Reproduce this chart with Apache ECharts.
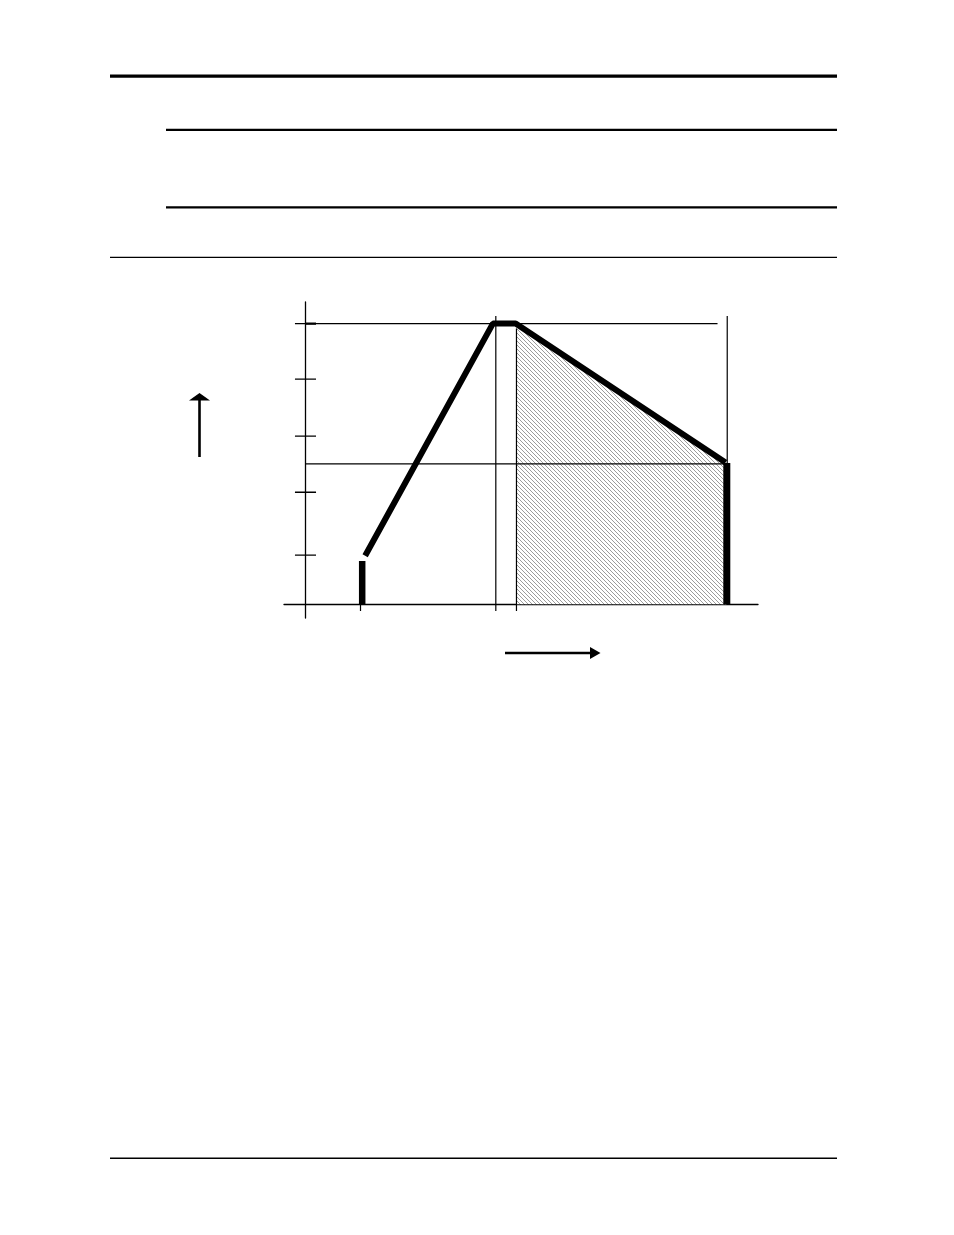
<!DOCTYPE html>
<html style="height: 100%">
<head>
<meta charset="utf-8">
<script src="https://cdn.jsdelivr.net/npm/echarts@6/dist/echarts.min.js"></script>
</head>
<body style="height: 100%; margin: 0; background: #fff">
<div id="container" style="width: 954px; height: 1235px"></div>
<script type="text/javascript">
// axis ranges (x: 50 = start of shaded part, 100 = end; y: 100 = peak)
var xRange = [-5.15, 107.3];
var yRange = [-4.9, 107.7];

// thick curve pieces
var startBar = [[13.4, 0], [13.4, 15.4]];
var mainCurve = [[14.1, 17.3], [44.4, 100], [49.8, 100], [99.6, 50.5]];
var endBar = [[99.9, 50.3], [99.9, 0]];
// shaded region top edge
var shadedTop = [[50, 100], [99.8, 50.3]];

// y tick positions and thin guide lines
var yTicks = [17.5, 39.9, 59.9, 80.2, 100];
var xTicks = [13.0, 45.1, 50];
var hGuides = [[[0, 100], [97.7, 100]], [[0, 50], [99.8, 50]]];
var vGuides = [[[45.1, 102.7], [45.1, 0]], [[50, 98.3], [50, 0]], [[100, 102.7], [100, 50]]];

var dom = document.getElementById("container");
var myChart = echarts.init(dom);

// hatch pattern for the shaded area
var hatch = document.createElement('canvas');
hatch.width = 4; hatch.height = 4;
var hc = hatch.getContext('2d');
hc.fillStyle = '#fff';
hc.fillRect(0, 0, 4, 4);
hc.fillStyle = '#9c9c9c';
for (var i = 0; i < 4; i++) hc.fillRect(i, i, 1, 1);

function seg(data, width) {
	return {
		type: 'line', data: data, symbol: 'none', silent: true,
		lineStyle: { color: '#000', width: width, cap: 'butt' }
	};
}

var series = [];
series.push({
	type: 'line', data: shadedTop, symbol: 'none', silent: true,
	lineStyle: { width: 0 },
	areaStyle: { color: { image: hatch, repeat: 'repeat' }, opacity: 1 }
});
hGuides.forEach(function(g) { series.push(seg(g, 1.2)); });
vGuides.forEach(function(g) { series.push(seg(g, 1.2)); });
yTicks.forEach(function(t, k) {
	series.push(seg([[-2.55, t], [2.45, t]], 1.3));
});
series.push(seg([[0, 100], [2.45, 100]], 2.2));
xTicks.forEach(function(t) { series.push(seg([[t, 0], [t, -2.4]], 1.2)); });
series.push(seg(startBar, 6.5));
series.push(seg(mainCurve, 6));
series.push(seg(endBar, 7));

var option = {
	animation: false,
	backgroundColor: '#fff',
	grid: { left: 284, right: 196, top: 302, bottom: 617 },
	xAxis: {
		type: 'value', min: xRange[0], max: xRange[1],
		axisLine: { onZero: true, lineStyle: { color: '#000', width: 1.3 } },
		axisTick: { show: false }, axisLabel: { show: false }, splitLine: { show: false }
	},
	yAxis: {
		type: 'value', min: yRange[0], max: yRange[1],
		axisLine: { onZero: true, lineStyle: { color: '#000', width: 1.3 } },
		axisTick: { show: false }, axisLabel: { show: false }, splitLine: { show: false }
	},
	graphic: [
		// page rules
		{ type: 'rect', shape: { x: 110, y: 74.5, width: 727, height: 3.3 }, style: { fill: '#000' } },
		{ type: 'rect', shape: { x: 166, y: 128.8, width: 671, height: 2.3 }, style: { fill: '#000' } },
		{ type: 'rect', shape: { x: 166, y: 206.2, width: 671, height: 2.3 }, style: { fill: '#000' } },
		{ type: 'rect', shape: { x: 110, y: 256.8, width: 727, height: 1.2 }, style: { fill: '#000' } },
		{ type: 'rect', shape: { x: 110, y: 1157.6, width: 727, height: 1.3 }, style: { fill: '#000' } },
		// up arrow
		{ type: 'rect', shape: { x: 198.2, y: 399, width: 2.6, height: 58 }, style: { fill: '#000' } },
		{ type: 'polygon', shape: { points: [[189, 400.5], [210, 400.5], [199.5, 393]] }, style: { fill: '#000' } },
		// right arrow
		{ type: 'rect', shape: { x: 505, y: 651.8, width: 87, height: 2.4 }, style: { fill: '#000' } },
		{ type: 'polygon', shape: { points: [[590, 647], [590, 659], [600.5, 653]] }, style: { fill: '#000' } }
	],
	series: series
};

if (option && typeof option === "object") {
	myChart.setOption(option, true);
}
</script>
</body>
</html>
